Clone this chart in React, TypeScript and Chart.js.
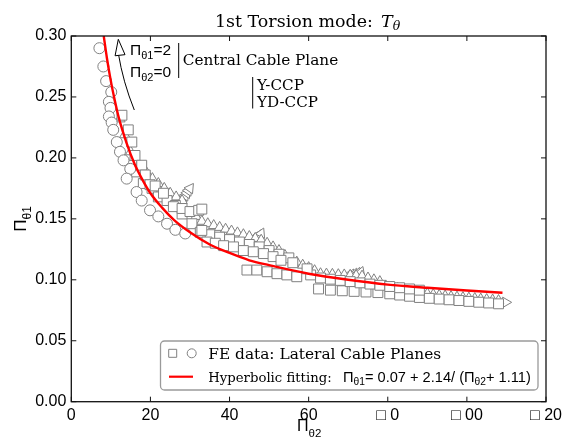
import React, { useEffect, useRef } from "react";
import { Chart, registerables } from "chart.js";

Chart.register(...registerables);

// ---- tick labels ----
const xTickValues = [0, 20, 40, 60, 80, 100, 120];
const xTickLabels = ["0", "20", "40", "60", "□ 0", "□ 00", "□ 20"];
const yTickValues = [0, 0.05, 0.1, 0.15, 0.2, 0.25, 0.3];
const yTickLabels = ["0.00", "0.05", "0.10", "0.15", "0.20", "0.25", "0.30"];

// ---- FE data: circles ----
const circleX = [7.1, 8.1, 8.8, 10.1, 9.5, 9.9, 9.5, 10.2, 10.6, 11.5, 12.3, 13.2, 14.9, 14.0, 16.5, 17.8, 19.9, 22.0, 24.2, 26.3, 28.8];
const circleY = [0.290, 0.275, 0.263, 0.254, 0.246, 0.241, 0.234, 0.229, 0.223, 0.213, 0.205, 0.198, 0.191, 0.183, 0.172, 0.165, 0.157, 0.152, 0.146, 0.141, 0.138];

// ---- FE data: squares ----
const squareAX = [12.8, 14.4, 15.3, 16.1, 17.8, 18.7, 19.9, 21.2, 23.3, 25.8, 28.0, 30.0, 32.2, 33.0];
const squareAY = [0.235, 0.223, 0.213, 0.202, 0.194, 0.186, 0.178, 0.177, 0.171, 0.160, 0.1585, 0.156, 0.157, 0.158];
const squareBX = [15.3, 16.5, 18.2, 20.4, 22.0, 24.2, 26.3, 28.0, 30.5, 32.6, 33.0, 34.3, 36.4, 38.5, 41.0, 43.5, 46.0, 48.6, 51.0, 53.0, 56.0, 59.6];
const squareBY = [0.194, 0.1885, 0.179, 0.175, 0.168, 0.165, 0.161, 0.154, 0.146, 0.139, 0.1405, 0.131, 0.130, 0.128, 0.127, 0.124, 0.123, 0.1215, 0.119, 0.116, 0.114, 0.109];
const squareFX = [35, 37.5, 40, 42.5, 45, 47.5, 50, 52.5, 55];
const squareFY = [0.137, 0.135, 0.133, 0.131, 0.129, 0.127, 0.124, 0.121, 0.118];
const squareCX = [60.5, 63, 65.5, 68, 70.5, 73, 75.5, 78, 80.5, 83, 85.5, 88];
const squareCY = [0.104, 0.1015, 0.1005, 0.0995, 0.0985, 0.0975, 0.0965, 0.0955, 0.0945, 0.0935, 0.0925, 0.0915];
const squareDX = [44.4, 46.9, 49.5, 52.0, 54.5, 57.0];
const squareDY = [0.108, 0.108, 0.1066, 0.105, 0.104, 0.1025];
const squareEX = [62.5, 65.5, 68.5, 71.5, 74.5, 77.5, 80.5, 83.0, 85.5, 88.0, 90.5, 93.0, 95.5, 98.0, 100.5, 103.0, 105.5, 108.0];
const squareEY = [0.0925, 0.0915, 0.091, 0.0905, 0.090, 0.0895, 0.0885, 0.0875, 0.0865, 0.0855, 0.0848, 0.0842, 0.0836, 0.083, 0.0823, 0.0816, 0.081, 0.0803];

// ---- FE data: triangles ----
const triangle0X = [12.3, 13.5, 15.0, 16.5];
const triangle0Y = [0.232, 0.219, 0.205, 0.197];
const triangle1X = [17.5, 19, 20.5, 22, 23.5, 25, 26.5, 28];
const triangle1Y = [0.193, 0.188, 0.183, 0.179, 0.175, 0.171, 0.168, 0.165];
const arrow1X = [27.6, 28.0, 28.4, 28.8, 29.2, 29.6, 30.0];
const arrow1Y = [0.163, 0.165, 0.167, 0.169, 0.171, 0.173, 0.175];
const triangle2X = [31.5, 33, 34.5, 36, 37.5, 39, 40.5, 42, 43.5, 45, 46.5, 48, 49.5, 51, 52.5];
const triangle2Y = [0.152, 0.148, 0.146, 0.1445, 0.143, 0.1415, 0.140, 0.1385, 0.137, 0.1355, 0.134, 0.1325, 0.130, 0.127, 0.124];
const arrow2X = [45.0, 45.6, 46.2, 46.8, 47.4, 48.0];
const arrow2Y = [0.1315, 0.1328, 0.1341, 0.1354, 0.1367, 0.138];
const triangle3X = [54, 55.5, 57, 58.5, 60, 61.5, 63, 64.5, 66, 67.5, 69, 70.5, 72, 73.5, 75, 76.5, 78];
const triangle3Y = [0.120, 0.117, 0.1145, 0.112, 0.110, 0.1075, 0.105, 0.1047, 0.1045, 0.1042, 0.104, 0.1037, 0.1035, 0.103, 0.1015, 0.100, 0.0985];
const arrow3X = [70.0, 70.8, 71.6, 72.4, 73.2];
const arrow3Y = [0.1035, 0.1042, 0.1049, 0.1056, 0.1063];
const triangle4X = [79.5, 81, 82.5, 84, 85.5, 87, 88.5, 90, 91.5, 93, 94.5, 96, 97.5, 99, 100.5, 102, 103.5, 105, 106.5, 108];
const triangle4Y = [0.095, 0.094, 0.093, 0.092, 0.091, 0.090, 0.0892, 0.0885, 0.0878, 0.0872, 0.0867, 0.0862, 0.0858, 0.0854, 0.085, 0.0846, 0.0842, 0.0838, 0.0834, 0.083];
const endMarkerX = [109.8];
const endMarkerY = [0.0815];

// ---- hyperbolic fitting curve ----
const fitX = [8.2, 9, 10, 11, 12, 14, 16, 18, 20, 23, 26, 30, 35, 40, 45, 50, 60, 70, 80, 90, 100, 109];
const fitY = [0.300, 0.282, 0.263, 0.247, 0.233, 0.212, 0.195, 0.182, 0.171, 0.159, 0.149, 0.139, 0.129, 0.122, 0.116, 0.112, 0.105, 0.100, 0.096, 0.0935, 0.0912, 0.0894];

const GREY = "rgb(128,128,128)";
const SANS = "'Liberation Sans', Arial, sans-serif";
const SERIF = "'DejaVu Serif', serif";

const zip = (xs: number[], ys: number[]) => xs.map((x, i) => ({ x, y: ys[i] }));

function markerSet(xs: number[], ys: number[], style: string, radius: number, order: number, rotation = 0) {
  return {
    type: "scatter" as const,
    data: zip(xs, ys),
    pointStyle: style,
    pointRadius: radius,
    pointRotation: rotation,
    borderColor: GREY,
    backgroundColor: "#ffffff",
    borderWidth: 1,
    showLine: false,
    order,
  };
}

function fitText(ctx: CanvasRenderingContext2D, text: string, x: number, y: number, family: string, target: number, style = "") {
  ctx.font = `${style} 20px ${family}`;
  const w = ctx.measureText(text).width;
  const size = (20 * target) / w;
  ctx.font = `${style} ${size}px ${family}`;
  ctx.fillText(text, x, y);
  return size;
}

function seg(ctx: CanvasRenderingContext2D, text: string, x: number, y: number, font: string) {
  ctx.font = font;
  ctx.fillText(text, x, y);
  return x + ctx.measureText(text).width;
}

const overlay = {
  id: "overlay",
  afterDraw(chart: any) {
    const { ctx, chartArea: a, scales } = chart;
    const xs = scales.x;
    const ys = scales.y;
    ctx.save();
    ctx.textAlign = "left";
    ctx.textBaseline = "alphabetic";
    ctx.fillStyle = "#000";
    // frame
    ctx.strokeStyle = "#111";
    ctx.lineWidth = 1.3;
    ctx.strokeRect(a.left, a.top, a.right - a.left, a.bottom - a.top);
    // inward ticks on all sides
    ctx.lineWidth = 1;
    ctx.beginPath();
    xTickValues.forEach((v) => {
      const px = xs.getPixelForValue(v);
      ctx.moveTo(px, a.bottom);
      ctx.lineTo(px, a.bottom - 5);
      ctx.moveTo(px, a.top);
      ctx.lineTo(px, a.top + 5);
    });
    yTickValues.forEach((v) => {
      const py = ys.getPixelForValue(v);
      ctx.moveTo(a.left, py);
      ctx.lineTo(a.left + 5, py);
      ctx.moveTo(a.right, py);
      ctx.lineTo(a.right - 5, py);
    });
    ctx.stroke();

    // title
    const ts = fitText(ctx, "1st Torsion mode:", 215, 26.5, SERIF, 158);
    let tx = seg(ctx, "T", 381, 26.5, `italic ${ts}px ${SERIF}`);
    seg(ctx, "θ", tx, 29.5, `italic ${ts * 0.72}px ${SERIF}`);

    // x axis title
    let ax = seg(ctx, "Π", 297, 431, `16px ${SANS}`);
    seg(ctx, "θ2", ax, 437, `11.5px ${SANS}`);
    // y axis title
    ctx.save();
    ctx.translate(26, 219);
    ctx.rotate(-Math.PI / 2);
    ctx.font = `17px ${SANS}`;
    const pw = ctx.measureText("Π").width;
    ctx.font = `12px ${SANS}`;
    const sw = ctx.measureText("θ1").width;
    let yx = seg(ctx, "Π", -(pw + sw) / 2, 0, `17px ${SANS}`);
    seg(ctx, "θ1", yx, 5, `12px ${SANS}`);
    ctx.restore();

    // annotation: arrow
    ctx.strokeStyle = "#000";
    ctx.lineWidth = 1;
    const tip = { x: 118.3, y: 39.3 };
    const cp = { x: 123, y: 82 };
    ctx.beginPath();
    ctx.moveTo(134.3, 110);
    ctx.quadraticCurveTo(cp.x, cp.y, tip.x, tip.y + 14);
    ctx.stroke();
    const dx = tip.x - cp.x, dy = tip.y - cp.y;
    const len = Math.hypot(dx, dy);
    const ux = dx / len, uy = dy / len;
    const bx = tip.x - ux * 16, by = tip.y - uy * 16;
    ctx.beginPath();
    ctx.moveTo(tip.x, tip.y);
    ctx.lineTo(bx - uy * 5, by + ux * 5);
    ctx.lineTo(bx + uy * 5, by - ux * 5);
    ctx.closePath();
    ctx.fillStyle = "#fff";
    ctx.fill();
    ctx.stroke();
    ctx.fillStyle = "#000";

    // Π labels
    let p1 = seg(ctx, "Π", 130, 55, `15.5px ${SANS}`);
    p1 = seg(ctx, "θ1", p1, 59, `11px ${SANS}`);
    seg(ctx, "=2", p1, 55, `15.5px ${SANS}`);
    let p2 = seg(ctx, "Π", 130, 76.7, `15.5px ${SANS}`);
    p2 = seg(ctx, "θ2", p2, 80.7, `11px ${SANS}`);
    seg(ctx, "=0", p2, 76.7, `15.5px ${SANS}`);

    // separators
    ctx.beginPath();
    ctx.moveTo(178.7, 43);
    ctx.lineTo(178.7, 78);
    ctx.moveTo(252.7, 77);
    ctx.lineTo(252.7, 108.5);
    ctx.stroke();
    fitText(ctx, "Central Cable Plane", 182.7, 65, SERIF, 155.7);
    const cs = fitText(ctx, "YD-CCP", 257, 106.5, SERIF, 61);
    seg(ctx, "Y-CCP", 257, 90, `${cs}px ${SERIF}`);

    // legend box
    const L = 160.5, T = 341, R = 538, B = 390, r = 4;
    ctx.beginPath();
    ctx.moveTo(L + r, T);
    ctx.lineTo(R - r, T);
    ctx.arcTo(R, T, R, T + r, r);
    ctx.lineTo(R, B - r);
    ctx.arcTo(R, B, R - r, B, r);
    ctx.lineTo(L + r, B);
    ctx.arcTo(L, B, L, B - r, r);
    ctx.lineTo(L, T + r);
    ctx.arcTo(L, T, L + r, T, r);
    ctx.closePath();
    ctx.fillStyle = "rgba(255,255,255,0.85)";
    ctx.fill();
    ctx.strokeStyle = "#9a9a9a";
    ctx.lineWidth = 1.3;
    ctx.stroke();
    // legend markers
    ctx.strokeStyle = GREY;
    ctx.lineWidth = 1;
    ctx.fillStyle = "#fff";
    ctx.beginPath();
    ctx.rect(168.7, 349.3, 8, 8);
    ctx.fill();
    ctx.stroke();
    ctx.beginPath();
    ctx.arc(191.7, 353.3, 4.5, 0, Math.PI * 2);
    ctx.fill();
    ctx.stroke();
    ctx.strokeStyle = "#ff0000";
    ctx.lineWidth = 2.2;
    ctx.beginPath();
    ctx.moveTo(169, 376.7);
    ctx.lineTo(193, 376.7);
    ctx.stroke();
    ctx.fillStyle = "#000";
    fitText(ctx, "FE data: Lateral Cable Planes", 208.3, 358.5, SERIF, 233);
    fitText(ctx, "Hyperbolic fitting:", 208.3, 381.5, SERIF, 123.4);
    // sans formula fitted to span 343..531
    const base = 14;
    const parts: [string, number, number][] = [
      ["Π", 1, 0],
      ["θ1", 0.7, 3],
      ["= 0.07 + 2.14/ (Π", 1, 0],
      ["θ2", 0.7, 3],
      ["+ 1.11)", 1, 0],
    ];
    let total = 0;
    parts.forEach(([t, s]) => {
      ctx.font = `${base * s}px ${SANS}`;
      total += ctx.measureText(t).width;
    });
    const k = (531 - 343) / total;
    let fx = 343;
    parts.forEach(([t, s, dy]) => {
      fx = seg(ctx, t, fx, 381.5 + dy * k, `${base * s * k}px ${SANS}`);
    });
    ctx.restore();
  },
};

export default function App() {
  const ref = useRef<HTMLCanvasElement | null>(null);
  useEffect(() => {
    if (!ref.current) return;
    const chart = new Chart(ref.current, {
      type: "scatter",
      data: {
        datasets: [
          {
            type: "line",
            data: zip(fitX, fitY),
            borderColor: "#ff0000",
            borderWidth: 2.4,
            pointRadius: 0,
            showLine: true,
            fill: false,
            cubicInterpolationMode: "monotone",
            order: 0,
          } as any,
          markerSet(circleX, circleY, "circle", 5.5, 1),
          markerSet(squareAX, squareAY, "rect", 7, 2),
          markerSet(squareBX, squareBY, "rect", 7, 2),
          markerSet(squareFX, squareFY, "rect", 7, 2),
          markerSet(squareCX, squareCY, "rect", 7, 2),
          markerSet(squareDX, squareDY, "rect", 7, 2),
          markerSet(squareEX, squareEY, "rect", 7, 2),
          markerSet(triangle0X, triangle0Y, "triangle", 6, 3),
          markerSet(triangle1X, triangle1Y, "triangle", 6, 3),
          markerSet(arrow1X, arrow1Y, "triangle", 6, 3, 35),
          markerSet(triangle2X, triangle2Y, "triangle", 6, 3),
          markerSet(arrow2X, arrow2Y, "triangle", 6, 3, 25),
          markerSet(triangle3X, triangle3Y, "triangle", 6, 3),
          markerSet(arrow3X, arrow3Y, "triangle", 6, 3, 20),
          markerSet(triangle4X, triangle4Y, "triangle", 6, 3),
          markerSet(endMarkerX, endMarkerY, "triangle", 6, 3, 90),
        ],
      },
      options: {
        responsive: false,
        maintainAspectRatio: false,
        devicePixelRatio: 1,
        animation: false,
        layout: { padding: { top: 36, right: 24, left: 0, bottom: 0 } },
        plugins: { legend: { display: false }, tooltip: { enabled: false }, title: { display: false } },
        scales: {
          x: {
            type: "linear",
            min: 0,
            max: 120,
            grid: { display: false, drawTicks: false, tickLength: 0 },
            border: { display: false },
            afterFit: (s: any) => {
              s.height = 42.3;
            },
            ticks: {
              stepSize: 20,
              autoSkip: false,
              maxRotation: 0,
              padding: 4,
              color: "#000",
              font: { family: SANS, size: 16 },
              callback: (v: any) => {
                const i = xTickValues.findIndex((t) => Math.abs(t - Number(v)) < 1e-6);
                return i >= 0 ? xTickLabels[i] : "";
              },
            },
          },
          y: {
            type: "linear",
            min: 0,
            max: 0.3,
            grid: { display: false, drawTicks: false, tickLength: 0 },
            border: { display: false },
            afterFit: (s: any) => {
              s.width = 71.3;
            },
            ticks: {
              stepSize: 0.05,
              autoSkip: false,
              padding: 5,
              color: "#000",
              font: { family: SANS, size: 16 },
              callback: (v: any) => {
                const i = yTickValues.findIndex((t) => Math.abs(t - Number(v)) < 1e-6);
                return i >= 0 ? yTickLabels[i] : "";
              },
            },
          },
        },
      },
      plugins: [overlay],
    } as any);
    return () => chart.destroy();
  }, []);
  return (
    <div style={{ position: "absolute", left: 0, top: 0, width: 570, height: 444, background: "#fff" }}>
      <canvas ref={ref} width={570} height={444} style={{ display: "block", width: 570, height: 444 }} />
    </div>
  );
}
